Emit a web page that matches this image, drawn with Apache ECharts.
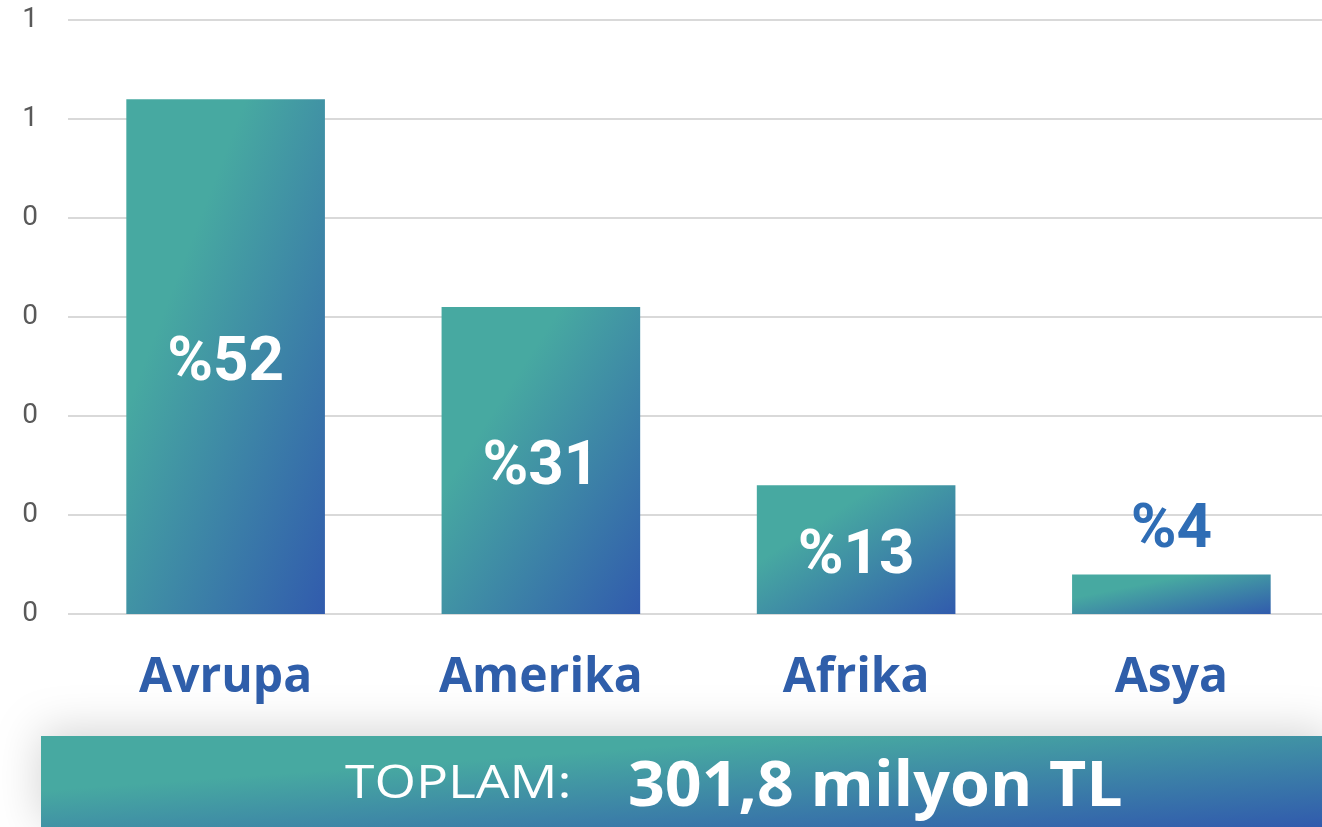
<!DOCTYPE html>
<html>
<head>
<meta charset="utf-8">
<script src="https://cdn.jsdelivr.net/npm/echarts@6/dist/echarts.min.js"></script>
<style>
  html, body { margin: 0; padding: 0; background: #fff; overflow: hidden; }
  /* a few px wider than the window so the last category band runs off the edge */
  #chart { width: 1330px; height: 827px; }
</style>
</head>
<body>
<div id="chart"></div>
<script>
// ---- data ----
var regions   = ["Avrupa", "Amerika", "Afrika", "Asya"];
var shares    = [0.52, 0.31, 0.13, 0.04];
var pctLabels = ["%52", "%31", "%13", "%4"];
var totalLabel = "TOPLAM:";
var totalValue = "301,8 milyon TL";

// ---- colours ----
var TEAL = "#47a9a1";
var BLUE = "#315bad";
var TEXT_BLUE = "#2f5eaa";
var BAR_GAP = 0.37;

// Office-style "scaled" diagonal gradient: isolines parallel to the
// anti-diagonal of the box, teal top-left -> blue bottom-right.
function shapeGradient(w, h) {
  var s = w * w + h * h;
  var ax = s > 0 ? 2 * h * h / s : 1;
  var ay = s > 0 ? 2 * w * w / s : 1;
  return new echarts.graphic.LinearGradient(0, 0, ax, ay, [
    { offset: 0, color: TEAL },
    { offset: 0.3, color: TEAL },
    { offset: 1, color: BLUE }
  ]);
}

var chart = echarts.init(document.getElementById("chart"));

function buildSeriesData(sizes) {
  return shares.map(function (v, i) {
    var small = v < 0.08;
    var sz = sizes ? sizes[i] : { w: 1, h: 1 };
    return {
      value: v,
      itemStyle: { color: shapeGradient(sz.w, sz.h) },
      label: {
        show: true,
        position: small ? "top" : "inside",
        distance: 12,
        offset: small ? [0, 0] : [0, 8],
        formatter: pctLabels[i],
        color: small ? "#2f6db5" : "#fff",
        fontFamily: "Roboto",
        fontWeight: "bold",
        fontSize: 62,
        letterSpacing: 3
      }
    };
  });
}

chart.setOption({
  animation: false,
  grid: { top: 20, bottom: 213, left: 68, right: 1, containLabel: false },
  xAxis: {
    type: "category",
    data: regions,
    axisLine: { show: false },
    axisTick: { show: false },
    axisLabel: {
      margin: 40,
      color: TEXT_BLUE,
      fontFamily: "Open Sans",
      fontWeight: "bold",
      fontSize: 48
    }
  },
  yAxis: {
    type: "value",
    min: 0,
    max: 0.6,
    interval: 0.1,
    axisLine: { show: false },
    axisTick: { show: false },
    splitLine: { lineStyle: { color: "#d9d9d9", width: 2 } },
    axisLabel: {
      margin: 30,
      color: "#595959",
      fontFamily: "Roboto",
      fontSize: 28,
      formatter: function (v) { return String(Math.round(v + 1e-9)); }
    }
  },
  series: [{
    type: "bar",
    data: buildSeriesData(null),
    barCategoryGap: (BAR_GAP * 100) + "%"
  }],
  graphic: [
    {
      type: "rect",
      left: 41, top: 736,
      shape: { width: 1289, height: 91 },
      style: {
        fill: shapeGradient(1281, 91),
        shadowBlur: 45,
        shadowColor: "rgba(0,0,0,0.18)",
        shadowOffsetY: -4
      },
      z: 10
    },
    {
      // total caption, stretched a little to match the wide original face
      type: "text",
      x: 345, y: 762,
      scaleX: 1.16,
      style: {
        text: totalLabel,
        fill: "#fff",
        font: "46px 'Open Sans'",
        textAlign: "left",
        textVerticalAlign: "top"
      },
      z: 11
    },
    {
      type: "text",
      x: 628, y: 757,
      scaleX: 1.04,
      style: {
        text: totalValue,
        fill: "#fff",
        font: "bold 62px 'Open Sans'",
        textAlign: "left",
        textVerticalAlign: "top"
      },
      z: 11
    }
  ]
});

// second pass: size each bar's gradient from its pixel box
var p0 = chart.convertToPixel({ gridIndex: 0 }, [0, 0]);
var p1 = chart.convertToPixel({ gridIndex: 0 }, [1, 0]);
var barW = (p1[0] - p0[0]) * (1 - BAR_GAP);
var sizes = shares.map(function (v, i) {
  var top = chart.convertToPixel({ gridIndex: 0 }, [i, v]);
  var base = chart.convertToPixel({ gridIndex: 0 }, [i, 0]);
  return { w: barW, h: Math.abs(base[1] - top[1]) };
});
chart.setOption({ series: [{ data: buildSeriesData(sizes) }] });
</script>
</body>
</html>
